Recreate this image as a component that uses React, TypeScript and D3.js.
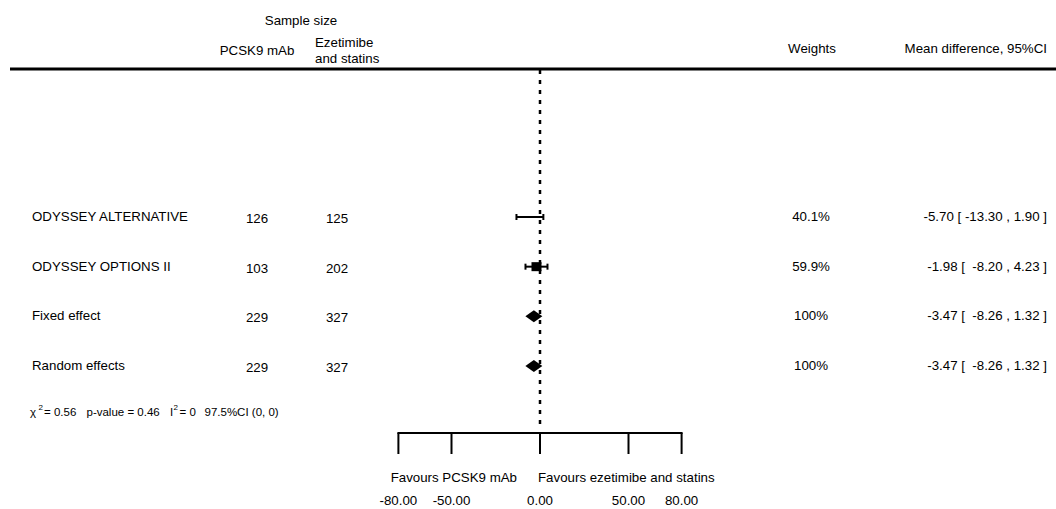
import React from "react";
import * as d3 from "d3";

const studies = ["ODYSSEY ALTERNATIVE", "ODYSSEY OPTIONS II", "Fixed effect", "Random effects"];
const nPcsk9 = [126, 103, 229, 229];
const nEze = [125, 202, 327, 327];
const meanDiff = [-5.7, -1.98, -3.47, -3.47];
const ciLow = [-13.3, -8.2, -8.26, -8.26];
const ciHigh = [1.9, 4.23, 1.32, 1.32];
const weights = ["40.1%", "59.9%", "100%", "100%"];
const isSummary = [false, false, true, true];
const tickValues = [-80, -50, 0, 50, 80];

const W = 1056;
const H = 509;

export default function App() {
  const x = d3.scaleLinear().domain([-80, 80]).range([398.4, 681.6]);
  const y = d3.scalePoint<number>().domain([0, 1, 2, 3]).range([217, 366]);
  const fmt = (v: number) => v.toFixed(2);
  const font = "Arial, 'Liberation Sans', sans-serif";
  const fs = 13.3;
  const ciText = (i: number) => {
    const lo = fmt(ciLow[i]);
    const hi = fmt(ciHigh[i]);
    return `${fmt(meanDiff[i])} [ ${lo.length < 6 ? " " + lo : lo} , ${hi} ]`;
  };
  const boxSize = (i: number) => (i === 1 ? 10 : 0);
  const axisY = 433;
  return (
    <div style={{ position: "fixed", left: 0, top: 0 }}>
      <svg width={W} height={H} style={{ display: "block", background: "#fff" }} fontFamily={font}>
        {/* header */}
        <text x={301} y={24.5} fontSize={fs} textAnchor="middle">Sample size</text>
        <text x={257} y={55} fontSize={fs} textAnchor="middle">PCSK9 mAb</text>
        <text x={315} y={46.5} fontSize={fs}>Ezetimibe</text>
        <text x={315} y={63} fontSize={fs}>and statins</text>
        <text x={812} y={52.5} fontSize={fs} textAnchor="middle">Weights</text>
        <text x={1047} y={52.5} fontSize={fs} textAnchor="end">Mean difference, 95%CI</text>
        <line x1={10} x2={W} y1={69} y2={69} stroke="#000" strokeWidth={3} />

        {/* null line */}
        <line x1={x(0)} x2={x(0)} y1={70} y2={428} stroke="#000" strokeWidth={2.5} strokeDasharray="4,6" />

        {/* rows */}
        {studies.map((s, i) => {
          const yy = y(i) as number;
          return (
            <g key={s}>
              <text x={32} y={yy + 4} fontSize={fs}>{s}</text>
              <text x={257} y={yy + 6} fontSize={fs} textAnchor="middle">{nPcsk9[i]}</text>
              <text x={337} y={yy + 6} fontSize={fs} textAnchor="middle">{nEze[i]}</text>
              <text x={811} y={yy + 4} fontSize={fs} textAnchor="middle">{weights[i]}</text>
              <text x={1047} y={yy + 4} fontSize={fs} textAnchor="end" style={{ whiteSpace: "pre" }}>{ciText(i)}</text>
              {isSummary[i] ? (
                <path
                  d={`M${x(ciLow[i])},${yy} L${x(meanDiff[i])},${yy - 6} L${x(ciHigh[i])},${yy} L${x(meanDiff[i])},${yy + 6} Z`}
                  fill="#000"
                />
              ) : (
                <g stroke="#000" strokeWidth={2}>
                  <line x1={x(ciLow[i])} x2={x(ciHigh[i])} y1={yy} y2={yy} />
                  <line x1={x(ciLow[i])} x2={x(ciLow[i])} y1={yy - 3} y2={yy + 3} />
                  <line x1={x(ciHigh[i])} x2={x(ciHigh[i])} y1={yy - 3} y2={yy + 3} />
                  {boxSize(i) > 0 && (
                    <rect
                      x={x(meanDiff[i]) - boxSize(i) / 2}
                      y={yy - boxSize(i) / 2 + 0.5}
                      width={boxSize(i)}
                      height={boxSize(i) - 1}
                      fill="#000"
                      stroke="none"
                    />
                  )}
                </g>
              )}
            </g>
          );
        })}

        {/* heterogeneity */}
        <g fontSize={11.5}>
          <text x={30} y={416}>χ</text>
          <text x={38.5} y={410} fontSize={8}>2</text>
          <text x={44} y={416} style={{ whiteSpace: "pre" }}>= 0.56</text>
          <text x={86.5} y={416} style={{ whiteSpace: "pre" }}>p-value = 0.46</text>
          <text x={170} y={416}>I</text>
          <text x={173.5} y={410} fontSize={8}>2</text>
          <text x={179.5} y={416} style={{ whiteSpace: "pre" }}>= 0</text>
          <text x={204.5} y={416} style={{ whiteSpace: "pre" }}>97.5%CI (0, 0)</text>
        </g>

        {/* axis */}
        <line x1={x(-80) - 1} x2={x(80) + 1} y1={axisY} y2={axisY} stroke="#000" strokeWidth={2} />
        {tickValues.map((t) => (
          <g key={t}>
            <line x1={x(t)} x2={x(t)} y1={axisY} y2={454} stroke="#000" strokeWidth={2} />
            <text x={x(t)} y={505} fontSize={fs} textAnchor="middle">{fmt(t)}</text>
          </g>
        ))}
        <text x={517} y={482} fontSize={fs} textAnchor="end">Favours PCSK9 mAb</text>
        <text x={538} y={482} fontSize={fs}>Favours ezetimibe and statins</text>
      </svg>
    </div>
  );
}
